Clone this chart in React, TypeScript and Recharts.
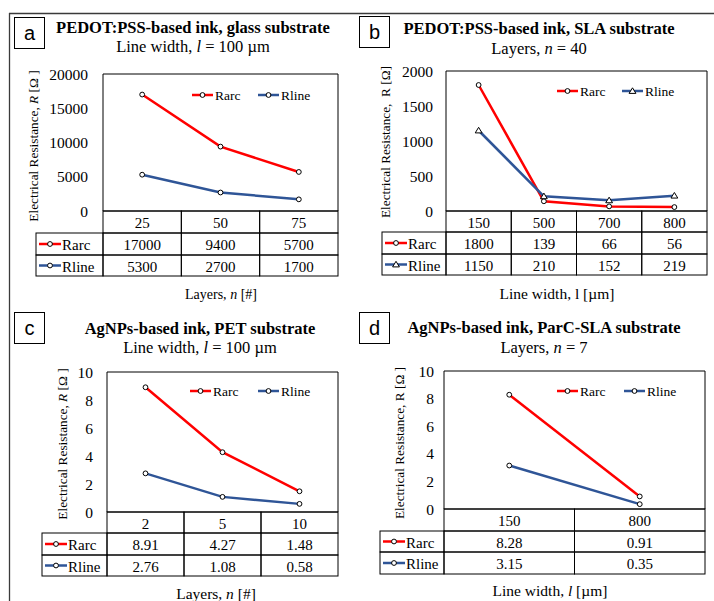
import React from 'react';
import { LineChart, Line, XAxis, YAxis, ReferenceArea, Legend } from 'recharts';

const RED = '#ff0000';
const BLUE = '#2f5597';
const SERIF = '"Liberation Serif", "Times New Roman", serif';
const SANS = '"Liberation Sans", Arial, sans-serif';

// Panel a
const catsA = ['25', '50', '75'];
const rarcA = [17000, 9400, 5700];
const rlineA = [5300, 2700, 1700];
const ticksA = [0, 5000, 10000, 15000, 20000];
// Panel b
const catsB = ['150', '500', '700', '800'];
const rarcB = [1800, 139, 66, 56];
const rlineB = [1150, 210, 152, 219];
const ticksB = [0, 500, 1000, 1500, 2000];
// Panel c
const catsC = ['2', '5', '10'];
const rarcC = [8.91, 4.27, 1.48];
const rlineC = [2.76, 1.08, 0.58];
const ticksC = [0, 2, 4, 6, 8, 10];
// Panel d
const catsD = ['150', '800'];
const rarcD = [8.28, 0.91];
const rlineD = [3.15, 0.35];
const ticksD = [0, 2, 4, 6, 8, 10];

const seriesNames = ['Rarc', 'Rline'];

type Cfg = {
  ox: number; oy: number; L: number; T: number; R: number; B: number;
  r1: number; r2: number; r3: number; legLeft: number;
  boxX: number; boxY: number; letter: string;
  titleX: number; titleY: number; subY: number; title: string; sub: React.ReactNode;
  ylabX: number; ylabY: number; ylab: React.ReactNode;
  xlabX: number; xlabY: number; xlab: React.ReactNode; xlabSize: number;
  legX: number; legY: number; legGap: number; tickGap: number;
  cats: string[]; rarc: number[]; rline: number[]; ticks: number[]; decimals: number;
  rlineMarker: 'circle' | 'triangle';
};

const it = (s: string) => <tspan fontStyle="italic">{s}</tspan>;

const panels: Cfg[] = [
  {
    ox: 0, oy: 0, L: 103, T: 74, R: 338, B: 211, r1: 233, r2: 255, r3: 276, legLeft: 36,
    boxX: 14, boxY: 17, letter: 'a',
    titleX: 193, titleY: 27, subY: 46, title: 'PEDOT:PSS-based ink, glass substrate',
    sub: <>Line width, {it('l')} = 100 µm</>,
    ylabX: 33, ylabY: 146, ylab: <>Electrical Resistance, {it('R')} [Ω ]</>,
    xlabX: 221, xlabY: 294, xlab: <>Layers, {it('n')} [#]</>, xlabSize: 14,
    legX: 192, legY: 95, legGap: 66, tickGap: 15,
    cats: catsA, rarc: rarcA, rline: rlineA, ticks: ticksA, decimals: 0, rlineMarker: 'circle',
  },
  {
    ox: 357, oy: 0, L: 446, T: 71, R: 707, B: 211, r1: 232, r2: 254, r3: 275, legLeft: 382,
    boxX: 359, boxY: 16, letter: 'b',
    titleX: 539, titleY: 28, subY: 48, title: 'PEDOT:PSS-based ink, SLA substrate',
    sub: <>Layers, {it('n')} = 40</>,
    ylabX: 385, ylabY: 142, ylab: <>Electrical Resistance,  R [Ω]</>,
    xlabX: 557, xlabY: 293, xlab: <>Line width, l [µm]</>, xlabSize: 15.5,
    legX: 557, legY: 91, legGap: 65, tickGap: 13,
    cats: catsB, rarc: rarcB, rline: rlineB, ticks: ticksB, decimals: 0, rlineMarker: 'triangle',
  },
  {
    ox: 0, oy: 300, L: 107, T: 372, R: 338, B: 512, r1: 533, r2: 555, r3: 576, legLeft: 42,
    boxX: 14, boxY: 312, letter: 'c',
    titleX: 200, titleY: 328, subY: 347, title: 'AgNPs-based ink, PET substrate',
    sub: <>Line width, {it('l')} = 100 µm</>,
    ylabX: 62, ylabY: 444, ylab: <>Electrical Resistance, {it('R')} [Ω ]</>,
    xlabX: 216, xlabY: 593, xlab: <>Layers, {it('n')} [#]</>, xlabSize: 15.5,
    legX: 190, legY: 391, legGap: 68, tickGap: 14,
    cats: catsC, rarc: rarcC, rline: rlineC, ticks: ticksC, decimals: 2, rlineMarker: 'circle',
  },
  {
    ox: 357, oy: 300, L: 444, T: 371, R: 705, B: 509, r1: 531, r2: 552, r3: 574, legLeft: 380,
    boxX: 359, boxY: 312, letter: 'd',
    titleX: 544, titleY: 327, subY: 347, title: 'AgNPs-based ink, ParC-SLA substrate',
    sub: <>Layers, {it('n')} = 7</>,
    ylabX: 399, ylabY: 443, ylab: <>Electrical Resistance, R [Ω ]</>,
    xlabX: 550, xlabY: 590, xlab: <>Line width, {it('l')} [µm]</>, xlabSize: 15.5,
    legX: 557, legY: 391, legGap: 67, tickGap: 10,
    cats: catsD, rarc: rarcD, rline: rlineD, ticks: ticksD, decimals: 2, rlineMarker: 'circle',
  },
];

function Marker({ x, y, kind }: { x: number; y: number; kind: 'circle' | 'triangle' }) {
  if (kind === 'triangle') {
    return (
      <path
        d={`M${x},${y - 3.2} L${x + 3.4},${y + 2.4} L${x - 3.4},${y + 2.4} Z`}
        fill="#fff" stroke="#000" strokeWidth={1}
      />
    );
  }
  return <circle cx={x} cy={y} r={2.4} fill="#fff" stroke="#000" strokeWidth={1} />;
}

function fmt(v: number, d: number) {
  return d > 0 ? v.toFixed(d) : String(v);
}

function Panel({ c }: { c: Cfg }) {
  const W = 357;
  const H = 300;
  const YW = 60;
  const n = c.cats.length;
  const max = c.ticks[c.ticks.length - 1];
  const data = c.cats.map((cat, i) => ({ i, cat, Rarc: c.rarc[i], Rline: c.rline[i] }));
  const cw = (c.R - c.L) / n;
  const b = c.B - c.oy;
  const r1 = c.r1 - c.oy;
  const r2 = c.r2 - c.oy;
  const r3 = c.r3 - c.oy;
  const markers: Record<string, 'circle' | 'triangle'> = { Rarc: 'circle', Rline: c.rlineMarker };

  const tick = (p: any) => {
    const idx = Number(p.payload.value);
    const x = p.x;
    const x0 = x - cw / 2;
    const ts = { fontFamily: SERIF, fontSize: 15, fill: '#000' } as any;
    return (
      <g key={`t${idx}`}>
        <rect x={x0} y={b} width={cw} height={r1 - b} fill="none" stroke="#000" strokeWidth={1} />
        <rect x={x0} y={r1} width={cw} height={r2 - r1} fill="none" stroke="#000" strokeWidth={1} />
        <rect x={x0} y={r2} width={cw} height={r3 - r2} fill="none" stroke="#000" strokeWidth={1} />
        <text x={x} y={(b + r1) / 2 + 1} textAnchor="middle" dominantBaseline="central" {...ts}>{c.cats[idx]}</text>
        <text x={x} y={(r1 + r2) / 2 + 1} textAnchor="middle" dominantBaseline="central" {...ts}>{fmt(c.rarc[idx], c.decimals)}</text>
        <text x={x} y={(r2 + r3) / 2 + 1} textAnchor="middle" dominantBaseline="central" {...ts}>{fmt(c.rline[idx], c.decimals)}</text>
      </g>
    );
  };

  const ytick = (p: any) => (
    <text
      key={`y${p.payload.value}`}
      x={c.L - c.ox - c.tickGap}
      y={p.y}
      textAnchor="end"
      dominantBaseline="central"
      fontFamily={SERIF}
      fontSize={15.5}
      fill="#000"
    >
      {p.payload.value}
    </text>
  );

  const dotFor = (key: string) => (p: any) => (
    <Marker key={`${key}${p.index}`} x={p.cx} y={p.cy} kind={markers[key]} />
  );

  const legendContent = (props: any) => {
    const payload = props.payload || [];
    return (
      <svg width={c.legGap * 2} height={20} style={{ display: 'block', overflow: 'visible' }}>
        {payload.map((e: any, i: number) => {
          const x0 = i * c.legGap;
          return (
            <g key={e.value}>
              <line x1={x0} x2={x0 + 21} y1={10} y2={10} stroke={e.color} strokeWidth={2.5} />
              <Marker x={x0 + 10.5} y={10} kind={markers[e.value]} />
              <text x={x0 + 23} y={10.5} dominantBaseline="central" fontFamily={SERIF} fontSize={13.5} fill="#000">{e.value}</text>
            </g>
          );
        })}
      </svg>
    );
  };

  return (
    <div style={{ position: 'absolute', left: c.ox, top: c.oy }}>
      <LineChart
        width={W}
        height={H}
        data={data}
        margin={{ top: c.T - c.oy, left: c.L - c.ox - YW, right: c.ox + W - c.R, bottom: c.oy + H - c.r3 }}
      >
        <XAxis
          dataKey="i"
          type="number"
          domain={[-0.5, n - 0.5]}
          ticks={data.map((d) => d.i)}
          interval={0}
          tick={tick}
          tickLine={false}
          axisLine={false}
          tickSize={0}
          tickMargin={0}
          height={c.r3 - c.B}
        />
        <YAxis
          type="number"
          domain={[0, max]}
          ticks={c.ticks}
          interval={0}
          width={YW}
          tickLine={false}
          axisLine={false}
          tick={ytick}
        />
        <ReferenceArea x1={-0.5} x2={n - 0.5} y1={0} y2={max} fill="none" stroke="#000" strokeWidth={1} ifOverflow="visible" />
        <Line dataKey="Rarc" name="Rarc" type="linear" stroke={RED} strokeWidth={2.5} dot={dotFor('Rarc')} activeDot={false} isAnimationActive={false} />
        <Line dataKey="Rline" name="Rline" type="linear" stroke={BLUE} strokeWidth={2.5} dot={dotFor('Rline')} activeDot={false} isAnimationActive={false} />
        <Legend
          layout="horizontal"
          verticalAlign="middle"
          align="center"
          content={legendContent}
          wrapperStyle={{ left: c.legX - c.ox, top: c.legY - c.oy - 10, width: c.legGap * 2, height: 20, margin: 0, padding: 0 }}
        />
      </LineChart>
    </div>
  );
}

function Overlay() {
  return (
    <svg width={714} height={601} style={{ position: 'absolute', left: 0, top: 0, pointerEvents: 'none' }}>
      <line x1={9} x2={714} y1={13.5} y2={13.5} stroke="#3a3a3a" strokeWidth={1.3} />
      <line x1={9.5} x2={9.5} y1={13} y2={601} stroke="#3a3a3a" strokeWidth={1.3} />
      {panels.map((c) => {
        const legRows = [
          { name: seriesNames[0], color: RED, y0: c.r1, y1: c.r2, kind: 'circle' as const },
          { name: seriesNames[1], color: BLUE, y0: c.r2, y1: c.r3, kind: c.rlineMarker },
        ];
        return (
          <g key={c.letter}>
            <rect x={c.boxX + 0.5} y={c.boxY + 0.5} width={30} height={31} fill="#fff" stroke="#000" strokeWidth={1} />
            <text x={c.boxX + 15.5} y={c.boxY + 16} textAnchor="middle" dominantBaseline="central" fontFamily={SANS} fontSize={20} fill="#000">{c.letter}</text>
            <text x={c.titleX} y={c.titleY} textAnchor="middle" dominantBaseline="central" fontFamily={SERIF} fontWeight="bold" fontSize={16.5} fill="#000">{c.title}</text>
            <text x={c.titleX} y={c.subY} textAnchor="middle" dominantBaseline="central" fontFamily={SERIF} fontSize={16.5} fill="#000">{c.sub}</text>
            <text x={c.ylabX} y={c.ylabY} textAnchor="middle" dominantBaseline="central" fontFamily={SERIF} fontSize={13.3} fill="#000" transform={`rotate(-90 ${c.ylabX} ${c.ylabY})`} style={{ whiteSpace: 'pre' }}>{c.ylab}</text>
            <text x={c.xlabX} y={c.xlabY} textAnchor="middle" dominantBaseline="central" fontFamily={SERIF} fontSize={c.xlabSize} fill="#000">{c.xlab}</text>
            {legRows.map((r) => (
              <g key={r.name}>
                <rect x={c.legLeft} y={r.y0} width={c.L - c.legLeft} height={r.y1 - r.y0} fill="none" stroke="#000" strokeWidth={1} />
                <line x1={c.legLeft + 3} x2={c.legLeft + 25} y1={(r.y0 + r.y1) / 2} y2={(r.y0 + r.y1) / 2} stroke={r.color} strokeWidth={2.5} />
                <Marker x={c.legLeft + 14} y={(r.y0 + r.y1) / 2} kind={r.kind} />
                <text x={c.legLeft + 26} y={(r.y0 + r.y1) / 2 + 1} dominantBaseline="central" fontFamily={SERIF} fontSize={15} fill="#000">{r.name}</text>
              </g>
            ))}
          </g>
        );
      })}
    </svg>
  );
}

export default function App() {
  return (
    <div style={{ position: 'absolute', left: 0, top: 0, width: 714, height: 601, background: '#fff', overflow: 'hidden' }}>
      {panels.map((c) => (
        <Panel key={c.letter} c={c} />
      ))}
      <Overlay />
    </div>
  );
}
